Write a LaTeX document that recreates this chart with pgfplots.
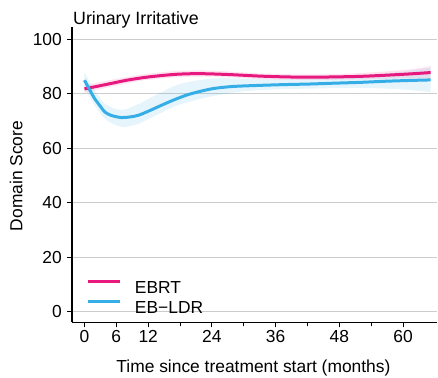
\documentclass[border=0pt]{standalone}
\usepackage{fontspec}
\setmainfont{Liberation Sans}
\usepackage{pgfplots}
\pgfplotsset{compat=1.18}
\usepgfplotslibrary{fillbetween}
\definecolor{ebrt}{HTML}{E8197E}
\definecolor{ldr}{HTML}{35AEE8}
\definecolor{gridgray}{HTML}{CCCCCC}
\newcommand{\fs}{\fontsize{17.4}{20}\selectfont}
\begin{document}
\begin{tikzpicture}
\begin{axis}[
  at={(72pt,54.7pt)}, anchor=south west,
  scale only axis, width=365pt, height=295pt,
  xmin=-2.35, xmax=66.4, ymin=-3.9, ymax=104.3,
  axis x line*=bottom, axis y line*=left,
  axis line style={black, line width=1.2pt, -},
  xtick={0,6,12,24,36,48,60},
  minor xtick={18,30,42,54},
  ytick={0,20,40,60,80,100},
  tick align=outside,
  major tick length=5pt, minor tick length=4pt,
  tick style={black, line width=1pt},
  ymajorgrids, grid style={gridgray, line width=0.8pt},
  /pgf/number format/assume math mode=true,
  ticklabel style={font=\fs},
  yticklabel style={inner sep=0pt, xshift=-5pt},
  xticklabel style={inner sep=0pt, yshift=-3pt},
  xlabel={Time since treatment start (months)},
  ylabel={Domain Score},
  xlabel style={font=\fs, at={(axis description cs:0.497,-0.1695)}, anchor=base},
  ylabel style={font=\fs, at={(axis description cs:-0.136,0.496)}, anchor=base},
  legend style={draw=none, fill=none, font=\fs, inner sep=0pt, outer sep=0pt,
    at={(axis description cs:0.041,0.144)}, anchor=north west,
    row sep=7pt, column sep=0pt,
    nodes={inner sep=0pt, text height=12pt, text depth=0pt}},
  legend cell align=left,
  legend image code/.code={\draw[#1, line width=3pt] (0pt,6pt) -- (32pt,6pt);},
  /tikz/every odd column/.style={column sep=13pt},
]
% EBRT band
\addplot[draw=none, smooth, name path=eu, forget plot] coordinates {
(0,83.0) (5,85.0) (11,87.0) (17.6,88.3) (24,88.4) (33,87.4) (42.5,87.0) (52,87.5) (61,88.8) (65.2,90.0)};
\addplot[draw=none, smooth, name path=el, forget plot] coordinates {
(0,80.3) (5,82.5) (11,84.8) (17.6,86.0) (24,86.2) (33,85.4) (42.5,85.0) (52,85.2) (61,85.6) (65.2,85.4)};
\addplot[ebrt, fill opacity=0.12, draw=none, forget plot] fill between[of=eu and el];
% EBRT line
\addplot[ebrt, line width=3pt, smooth] coordinates {
(0,81.7) (2.5,82.7) (5,83.7) (8,84.9) (11.3,85.9) (14.5,86.6) (17.6,87.1) (21,87.3) (24,87.2) (28,86.9) (33,86.4) (38,86.1) (42.5,86.0) (47,86.1) (51.9,86.3) (56.5,86.7) (61.3,87.2) (65.2,87.7)};
\addlegendentry{EBRT}
% LDR band
\addplot[draw=none, smooth, name path=lu, forget plot] coordinates {
(0,87.8) (2,81.0) (4,76.0) (7,74.0) (10,76.0) (14,80.0) (18,83.5) (24,85.5) (30,85.5) (36,85.3) (42,85.3) (48,85.8) (54,86.8) (60,88.0) (65.2,89.5)};
\addplot[draw=none, smooth, name path=ll, forget plot] coordinates {
(0,82.0) (2,75.5) (4,70.5) (7,67.8) (10,68.8) (14,72.5) (18,76.0) (24,79.0) (30,80.8) (36,81.5) (42,81.8) (48,82.0) (54,82.0) (60,81.5) (65.2,80.5)};
\addplot[ldr, fill opacity=0.12, draw=none, forget plot] fill between[of=lu and ll];
% LDR line
\addplot[ldr, line width=3pt, smooth] coordinates {
(0,84.9) (1,81.3) (1.9,78.2) (3,75.3) (3.8,73.3) (5,72.0) (6.9,71.2) (8.5,71.4) (10.1,72.0) (12,73.5) (14.5,75.7) (17,77.8) (19.5,79.6) (22,80.9) (24.5,81.9) (28,82.6) (33,83.0) (38,83.3) (42.5,83.5) (47,83.8) (51.9,84.1) (56.5,84.5) (61.3,84.8) (65.2,85.0)};
\addlegendentry{EB−LDR}
\end{axis}
\node[font=\fontsize{17.8}{20}\selectfont, anchor=base west, inner sep=0pt] at (73pt,352pt) {Urinary Irritative};
\pgfresetboundingbox
\useasboundingbox (0,0) rectangle (438pt,377pt);
\end{tikzpicture}
\end{document}
